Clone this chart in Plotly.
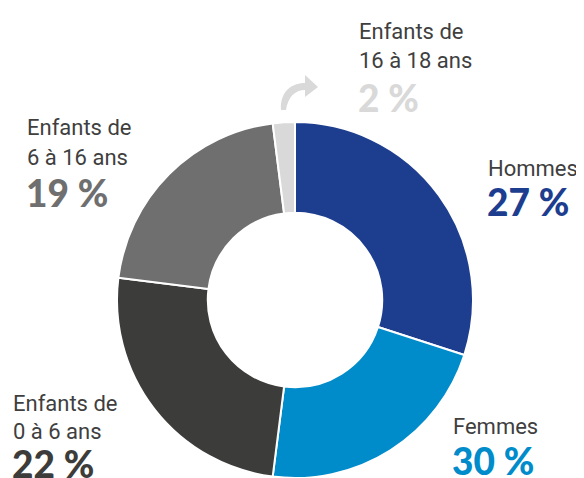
import plotly.graph_objects as go

# Slice shares as drawn in the reference (clockwise from 12 o'clock)
categories = ["Hommes", "Femmes", "Enfants de 0 à 6 ans", "Enfants de 6 à 16 ans", "Enfants de 16 à 18 ans"]
slice_values = [30, 22, 25, 21, 2]
# Percentages printed next to each slice
label_pcts = ["27 %", "30 %", "22 %", "19 %", "2 %"]
label_lines = [["Hommes"], ["Femmes"], ["Enfants de", "0 à 6 ans"], ["Enfants de", "6 à 16 ans"], ["Enfants de", "16 à 18 ans"]]
colors = ["#1d3d8f", "#008bca", "#3c3c3b", "#6f6f6f", "#d9d9d9"]

# page has an 8px body margin: figure drawn 8px in from the window's corner
OFF = 8
W, H = 584 - OFF, 478 - OFF


def pxx(x):
    return (x - OFF) / W


def pxy(y):
    return 1 - (y - OFF) / H


cx, cy, R = 295, 300, 178  # window pixels

fig = go.Figure(go.Pie(
    labels=categories,
    values=slice_values,
    sort=False,
    direction="clockwise",
    rotation=0,
    hole=0.49,
    marker=dict(colors=colors, line=dict(color="white", width=2)),
    textinfo="none",
    hoverinfo="label+percent",
    showlegend=False,
    domain=dict(x=[pxx(cx - R), pxx(cx + R)], y=[max(0.0, pxy(cy + R)), pxy(cy - R)]),
))

LABEL_FONT = "Roboto, DejaVu Sans Condensed, sans-serif"
PCT_FONT = "Lato, Roboto, sans-serif"

# (left x, [cap-middle y of each text line], cap-middle y of percentage) in window pixels
layout_pos = [
    (487, [167], 200),
    (452, [425], 459.5),
    (12, [402, 430], 462.5),
    (26, [127, 156], 191.5),
    (358, [30, 59.5], 96.5),
]

annotations = []
for (x, ys, yp), lines, pct, col in zip(layout_pos, label_lines, label_pcts, colors):
    for yy, t in zip(ys, lines):
        annotations.append(dict(
            x=pxx(x - 1), y=pxy(yy + 1), xref="paper", yref="paper",
            xanchor="left", yanchor="middle", showarrow=False, text=t,
            font=dict(family=LABEL_FONT, size=22, color="#3f3f3f"),
        ))
    annotations.append(dict(
        x=pxx(x - 2), y=pxy(yp + 1), xref="paper", yref="paper",
        xanchor="left", yanchor="middle", showarrow=False, text=pct,
        font=dict(family=PCT_FONT, size=37, color=col, weight=900),
    ))


def pt(x, y):
    return f"{pxx(x):.4f},{pxy(y):.4f}"


# curved arrow pointing from the small slice to its label
arrow_body = (
    f"M {pt(281, 110)} C {pt(280, 92)} {pt(291, 83)} {pt(305, 83)}"
    f" L {pt(305, 75)} L {pt(318, 87)} L {pt(305, 97)} L {pt(305, 90)}"
    f" C {pt(295, 90)} {pt(288, 97)} {pt(286, 110)} Z"
)

fig.update_layout(
    width=W, height=H,
    margin=dict(l=0, r=0, t=0, b=0),
    paper_bgcolor="white",
    plot_bgcolor="white",
    annotations=annotations,
    shapes=[dict(type="path", path=arrow_body, xref="paper", yref="paper",
                 fillcolor="#d9d9d9", line=dict(width=0))],
)

fig.write_html("out.html")
